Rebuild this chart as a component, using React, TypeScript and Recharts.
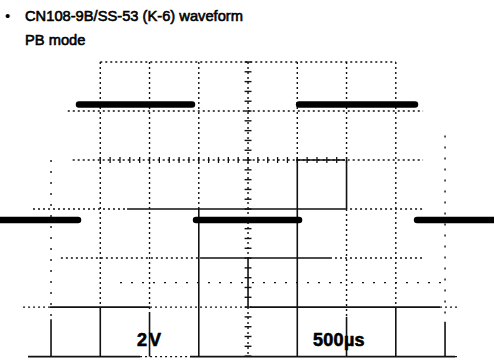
import React from 'react';
import { ComposedChart, Line, XAxis, YAxis, ReferenceLine } from 'recharts';

// ---- data (time in µs, level in V; 500µs/div, 2V/div) ----
const segmentStart = [-2518, -1716, -528, 518, 1716];
const segmentEnd = [-1726, -569, 518, 1695, 2497];
const segmentLevel = [-0.45, 4.27, -0.45, 4.27, -0.45];

const timeDomain = [-2518, 2497];
const voltDomain = [-6.2, 8.53];

const titleLine1 = 'CN108-9B/SS-53 (K-6) waveform';
const titleLine2 = 'PB mode';
const voltLabel = '2V';
const timeLabel = '500µs';

// grid: [fixed value, from, to, style]
type Seg = [number, number, number, 's' | 'd' | 'p'];
const hGrid: Seg[] = [
  [6, -1500, 1500, 'd'],
  [4, -1830, 1777, 'd'],
  [2, -1780, 1777, 'd'],
  [2, 487, 985, 's'],
  [0, -2183, -1228, 'd'],
  [0, -1228, 985, 's'],
  [0, 985, 1797, 'd'],
  [-2, -1900, -487, 'd'],
  [-2, -487, 832, 's'],
  [-2, 832, 1797, 'd'],
  [-3, -1300, 2000, 'p'],
  [-4, -2284, -2010, 'd'],
  [-4, -2010, -995, 's'],
  [-4, -995, 20, 'd'],
  [-4, 20, 1949, 's'],
  [-4, 1949, 2150, 'd'],
  [-6.02, -2234, -1096, 's'],
  [-6.02, -1096, -589, 'd'],
  [-6.02, -589, 2101, 's'],
  [-6.02, 2101, 2152, 'd'],
];
const vGrid: Seg[] = [
  [-2000, 2, -4.5, 'p'],
  [-2000, -4.5, -6.02, 's'],
  [-1500, 6, -4, 'd'],
  [-1500, -4, -6.02, 's'],
  [-1000, 6, -4.2, 'd'],
  [-1000, -4.2, -6.02, 's'],
  [-500, 6, 0, 'd'],
  [-500, 0, -6.02, 's'],
  [0, 6, -2, 'd'],
  [0, -2, -4, 's'],
  [0, -4, -6.02, 'd'],
  [500, 6, 2, 'd'],
  [500, 2, -6.02, 's'],
  [1000, 6, 2, 'd'],
  [1000, 2, 0, 's'],
  [1000, 0, -4.4, 'd'],
  [1000, -4.4, -6.02, 's'],
  [1500, 6, -4, 'd'],
  [1500, -4, -6.02, 's'],
  [2000, 3, -4.6, 'p'],
  [2000, -4.6, -6.02, 's'],
];
// minor ticks on the centre axes
const centerVTicks = Array.from({ length: 31 }, (_, i) => 6 - i * 0.4);
const centerHTicks = Array.from({ length: 26 }, (_, i) => -1500 + i * 100);

const waveData: { t: number; v: number | null }[] = [];
segmentStart.forEach((s, i) => {
  waveData.push({ t: s, v: segmentLevel[i] });
  waveData.push({ t: segmentEnd[i], v: segmentLevel[i] });
  waveData.push({ t: segmentEnd[i], v: null });
});

const dashFor = (k: string) => (k === 's' ? undefined : k === 'd' ? '2 3' : '2 9');

export default function App() {
  const font = '"Liberation Sans", Arial, sans-serif';
  return (
    <div style={{ position: 'absolute', left: 0, top: 0, width: 494, height: 361, background: '#fff' }}>
      <ComposedChart width={494} height={361} data={waveData} margin={{ top: 0, right: 0, bottom: 0, left: 0 }}>
        <XAxis dataKey="t" type="number" domain={timeDomain} hide allowDataOverflow />
        <YAxis type="number" domain={voltDomain} hide allowDataOverflow />
        {hGrid.map(([y, a, b, k], i) => (
          <ReferenceLine key={'h' + i} segment={[{ x: a, y }, { x: b, y }]} stroke="#111" strokeWidth={k === 's' ? 1.6 : 1.4} strokeDasharray={dashFor(k)} ifOverflow="visible" />
        ))}
        {vGrid.map(([x, a, b, k], i) => (
          <ReferenceLine key={'v' + i} segment={[{ x, y: a }, { x, y: b }]} stroke="#111" strokeWidth={k === 's' ? 1.6 : 1.4} strokeDasharray={dashFor(k)} ifOverflow="visible" />
        ))}
        {centerVTicks.map((y, i) => (
          <ReferenceLine key={'cv' + i} segment={[{ x: -35, y }, { x: 35, y }]} stroke="#111" strokeWidth={1.4} ifOverflow="visible" />
        ))}
        {centerHTicks.map((x, i) => (
          <ReferenceLine key={'ch' + i} segment={[{ x, y: 1.88 }, { x, y: 2.12 }]} stroke="#111" strokeWidth={1.3} ifOverflow="visible" />
        ))}
        <Line dataKey="v" type="linear" stroke="#000" strokeWidth={6.5} strokeLinecap="round" dot={false} activeDot={false} connectNulls={false} isAnimationActive={false} />
      </ComposedChart>
      <svg width={494} height={361} style={{ position: 'absolute', left: 0, top: 0, pointerEvents: 'none' }}>
        <text x={5} y={21} fontFamily={font} fontSize={15} fill="#000">•</text>
        <text x={25} y={21} fontFamily={font} fontSize={14.7} fill="#000" stroke="#000" strokeWidth={0.6}>{titleLine1}</text>
        <text x={25} y={45} fontFamily={font} fontSize={14.7} fill="#000" stroke="#000" strokeWidth={0.6}>{titleLine2}</text>
        <text x={137} y={346} fontFamily={font} fontSize={18} fontWeight="bold" fill="#000" stroke="#000" strokeWidth={0.6} letterSpacing={2}>{voltLabel}</text>
        <text x={313} y={346} fontFamily={font} fontSize={18} fontWeight="bold" fill="#000" stroke="#000" strokeWidth={0.6} letterSpacing={0.3}>{timeLabel}</text>
      </svg>
    </div>
  );
}
